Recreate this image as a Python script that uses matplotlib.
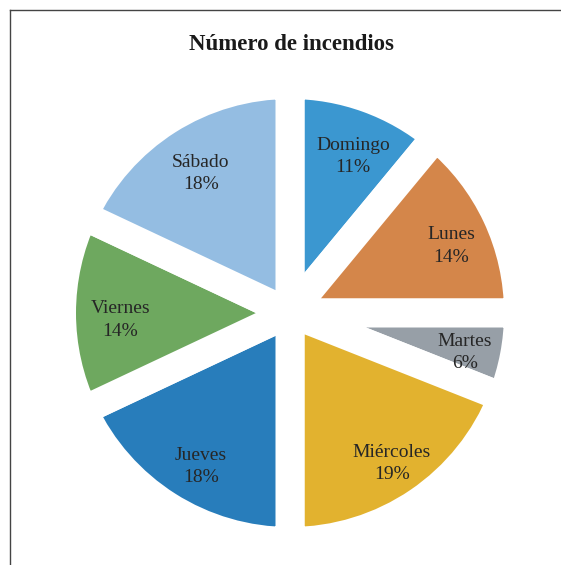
import matplotlib
matplotlib.use("Agg")
import matplotlib.pyplot as plt
from matplotlib.lines import Line2D

# data
days = ["Domingo", "Lunes", "Martes", "Miércoles", "Jueves", "Viernes", "Sábado"]
shares = [11, 14, 6, 19, 18, 14, 18]
colors = ["#3B97D0", "#D4864A", "#979FA7", "#E2B22F", "#287DBB", "#6EA85F", "#94BDE2"]

plt.rcParams['font.family'] = ['Liberation Serif', 'DejaVu Serif']

W, H = 561, 565
fig = plt.figure(figsize=(W / 100, H / 100), dpi=100)

# square axes in pixel units, centred on the pie
cx, cy, half = 290, 313, 250
ax = fig.add_axes([(cx - half) / W, (H - cy - half) / H, 2 * half / W, 2 * half / H])

gap = 29          # white band between slices, px
radius = 214 + gap / 2
labels = [f"{d}\n{s}%" for d, s in zip(days, shares)]

wedges, texts = ax.pie(shares, colors=colors, labels=labels, radius=radius,
                       startangle=90, counterclock=False, labeldistance=0.76,
                       wedgeprops=dict(edgecolor="white", linewidth=gap * 0.72,
                                       joinstyle="round"),
                       textprops=dict(fontsize=14, color="#262626"))
for t in texts:
    t.set_ha("center")
    t.set_va("center")
    t.set_multialignment("center")
    t.set_linespacing(1.4)
    x, y = t.get_position()
    t.set_position((x + 4, y - 7))   # nudge like the original layout

ax.set_xlim(-half, half)
ax.set_ylim(-half, half)
ax.axis("off")

fig.text(291 / W, 1 - 45 / H, "Número de incendios", ha="center", va="center",
         fontsize=16.5, fontweight="bold", color="#1a1a1a")

# chart border (only top and left visible)
fig.add_artist(Line2D([9.5 / W, 9.5 / W], [0, 1 - 9.5 / H], color="#444444", lw=1))
fig.add_artist(Line2D([9.5 / W, 1], [1 - 9.5 / H, 1 - 9.5 / H], color="#444444", lw=1))

plt.savefig("out.png", dpi=100)
